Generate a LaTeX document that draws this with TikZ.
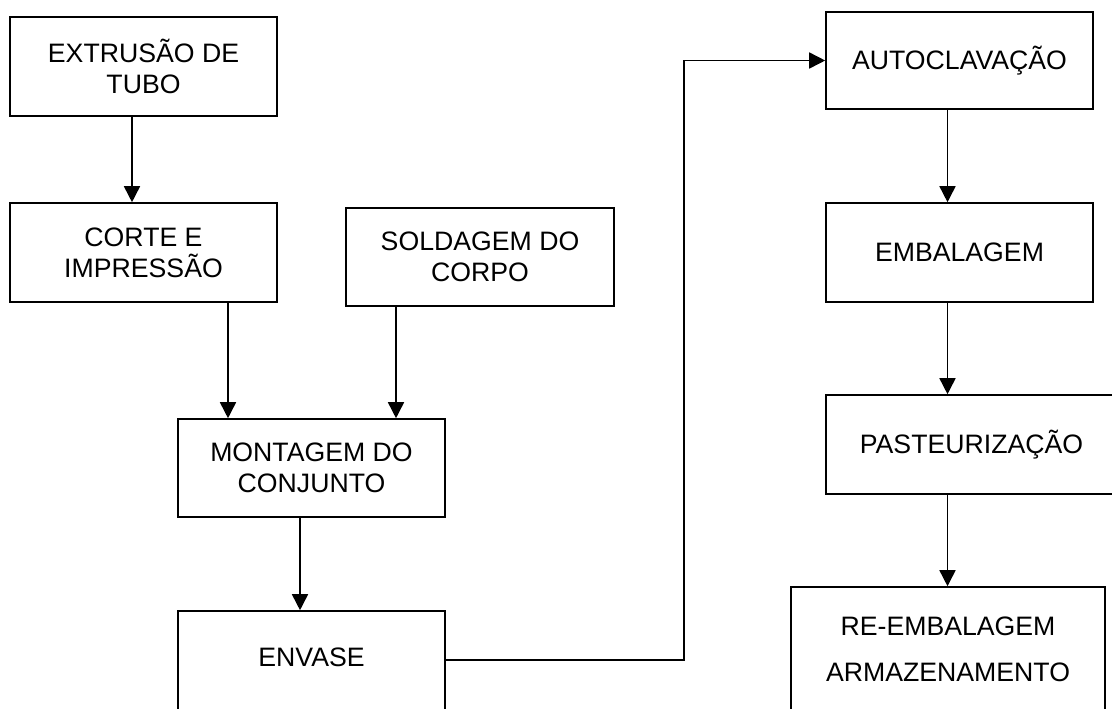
\documentclass[tikz,border=0pt]{standalone}
\usepackage{fontspec}
\setmainfont{Liberation Sans}
\usetikzlibrary{arrows.meta}
\tikzset{
	box/.style={draw, line width=1.2pt, inner sep=0pt, align=center, font=\fontsize{20pt}{23.25pt}\selectfont},
	arr/.style={line width=1.2pt, -{Triangle[length=12pt, width=12pt]}}
}

\begin{document}
\begin{tikzpicture}[x=0.75pt, y=-0.75pt]
			%%%%% START %%%%%
			
			\useasboundingbox (0, 0) rectangle (1112, 708);
			\clip (0, 0) rectangle (1112, 708);
			
			\node[box, minimum width=200.25pt, minimum height=74.25pt] (ext) at (143.5, 66.5) {EXTRUSÃO DE\\TUBO};
			\node[box, minimum width=200.25pt, minimum height=74.25pt] (cut) at (143.5, 252.5) {CORTE E\\IMPRESSÃO};
			\node[box, minimum width=201pt, minimum height=73.5pt] (sold) at (480, 257) {SOLDAGEM DO\\CORPO};
			\node[box, minimum width=200.25pt, minimum height=73.5pt] (mont) at (311.5, 468) {MONTAGEM DO\\CONJUNTO};
			\node[box, minimum width=200.25pt, minimum height=93pt, text height=14.2pt, text depth=24pt] (env) at (311.5, 673) {ENVASE};
			
			\node[box, minimum width=200.25pt, minimum height=72.75pt] (auto) at (959.5, 60.5) {AUTOCLAVAÇÃO};
			\node[box, minimum width=200.25pt, minimum height=74.25pt] (emb) at (959.5, 252.5) {EMBALAGEM};
			\node[box, minimum width=218.25pt, minimum height=74.25pt] (past) at (971.5, 444.5) {PASTEURIZAÇÃO};
			\node[box, minimum width=235.5pt, minimum height=93pt] (remb) at (948, 649) {RE-EMBALAGEM\\[11.25pt]ARMAZENAMENTO};
			
			% columns of the connectors
			\coordinate (c1) at (132, 0);
			\coordinate (c2) at (228, 0);
			\coordinate (c3) at (396, 0);
			\coordinate (c4) at (300, 0);
			\coordinate (c5) at (947.5, 0);
			\coordinate (bend) at (684, 660);
			
			\draw[arr] (ext.south -| c1) -- (cut.north -| c1);
			\draw[arr] (cut.south -| c2) -- (mont.north -| c2);
			\draw[arr] (sold.south -| c3) -- (mont.north -| c3);
			\draw[arr] (mont.south -| c4) -- (env.north -| c4);
			\draw[arr] (env.east |- bend) -- (bend) |- (auto.west);
			
			\draw[arr] (auto.south -| c5) -- (emb.north -| c5);
			\draw[arr] (emb.south -| c5) -- (past.north -| c5);
			\draw[arr] (past.south -| c5) -- (remb.north -| c5);
			
			%%%%% END %%%%%
\end{tikzpicture}
\end{document}
